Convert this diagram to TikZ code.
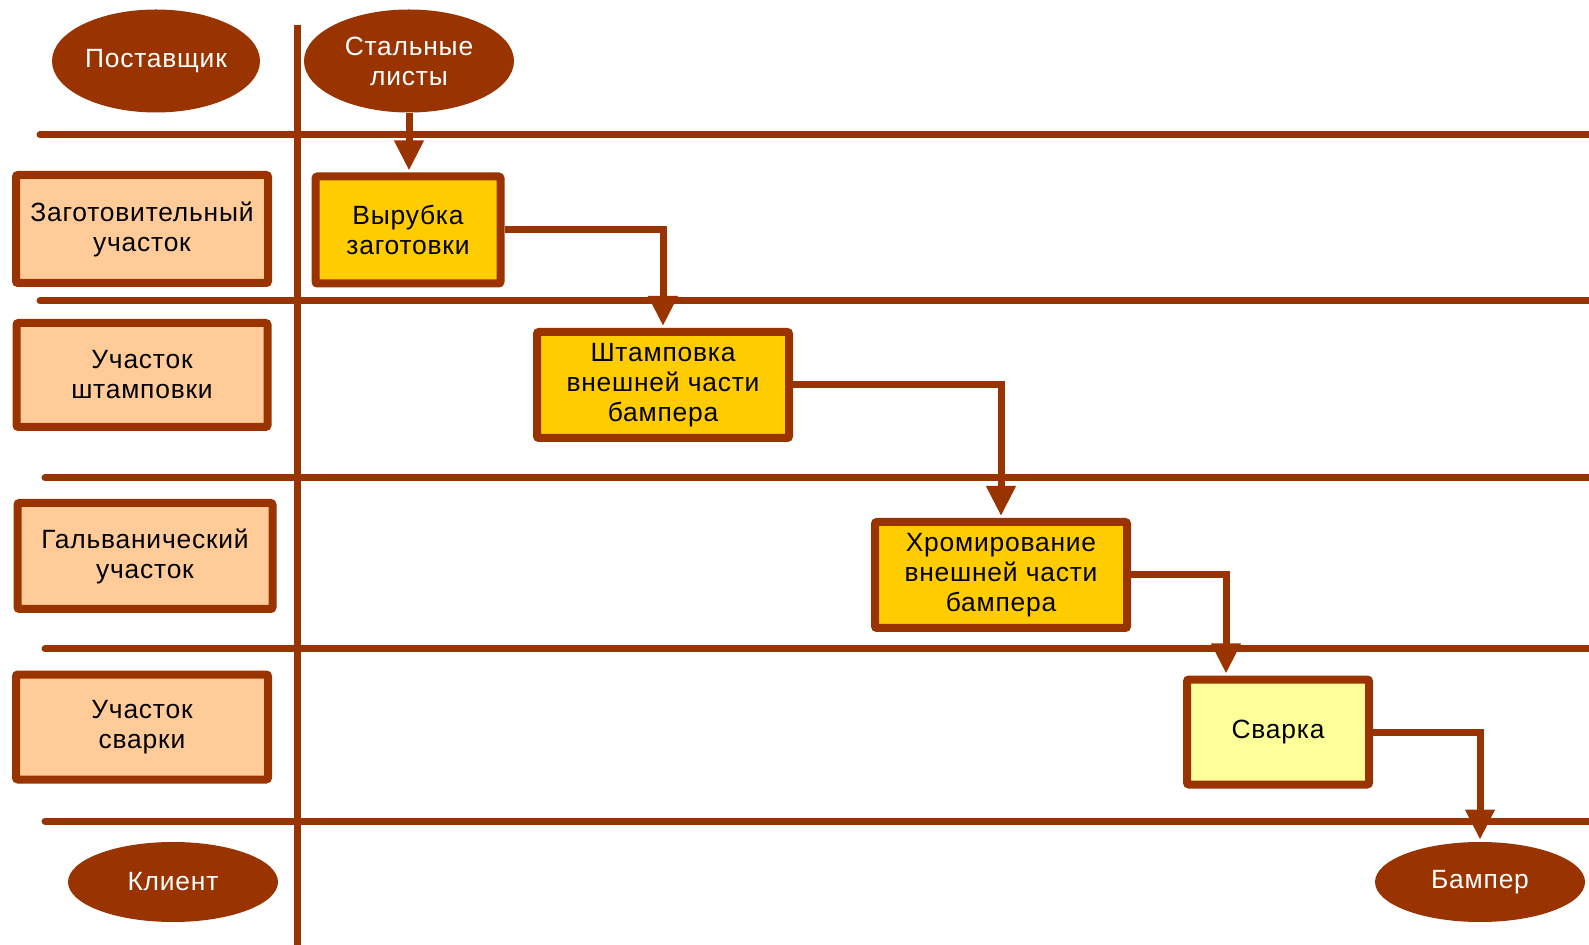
\documentclass[tikz,border=0pt]{standalone}
\usepackage{fontspec}
\setmainfont{Liberation Sans}[LetterSpace=3]
\usetikzlibrary{arrows.meta,shapes.geometric}
\definecolor{brn}{HTML}{993300}
\definecolor{peach}{HTML}{FFCC99}
\definecolor{gold}{HTML}{FFCC00}
\definecolor{pale}{HTML}{FFFF99}
\tikzset{
  lane/.style={draw=brn,line width=3.5pt,line cap=round},
  oval/.style={ellipse,fill=brn,text=white,inner sep=0pt,align=center,font=\fontsize{13.2}{15}\selectfont},
  dept/.style={rectangle,draw=brn,line width=4pt,fill=peach,rounded corners=1pt,align=center,inner sep=0pt,font=\fontsize{13.2}{15}\selectfont},
  proc/.style={dept,fill=gold},
  conn/.style={draw=brn,line width=3.5pt,-{Triangle[length=15pt,width=14pt]},shorten >=1pt}
}
\begin{document}
\begin{tikzpicture}[x=0.5pt,y=-0.5pt]
\useasboundingbox[fill=white] (0,0) rectangle (1589,945);
% lanes
\draw[lane] (40,135) -- (1600,135);
\draw[lane] (40,301) -- (1600,301);
\draw[lane] (45,478) -- (1600,478);
\draw[lane] (45,649) -- (1600,649);
\draw[lane] (45,821) -- (1600,821);
\draw[lane,line cap=butt] (297,25) -- (297,950);
% ovals
\node[oval,minimum width=104pt,minimum height=51.5pt] (post) at (156,61) {Поставщик};
\node[oval,minimum width=105pt,minimum height=51.5pt] (st) at (409,61) {Стальные\\листы};
\node[oval,minimum width=105pt,minimum height=40pt] (kl) at (173,882) {Клиент};
\node[oval,minimum width=105pt,minimum height=40pt] (bamper) at (1480,882) {Бампер};
% departments
\node[dept,minimum width=126pt,minimum height=54pt] (d1) at (142,229) {Заготовительный\\участок};
\node[dept,minimum width=125.5pt,minimum height=52pt] (d2) at (142,375) {Участок\\штамповки};
\node[dept,minimum width=127.5pt,minimum height=53pt] (d3) at (145,556) {Гальванический\\участок};
\node[dept,minimum width=126pt,minimum height=52.5pt] (d4) at (142,727) {Участок\\сварки};
% processes
\node[proc,minimum width=92.5pt,minimum height=53.5pt] (vyr) at (408,230) {Вырубка\\заготовки};
\node[proc,minimum width=126pt,minimum height=53pt] (shtamp) at (663,385) {Штамповка\\внешней части\\бампера};
\node[proc,minimum width=126pt,minimum height=53pt] (chrom) at (1001,575) {Хромирование\\внешней части\\бампера};
\node[proc,fill=pale,minimum width=91pt,minimum height=52.5pt] (svarka) at (1278,732) {Сварка};
\coordinate (c1) at (1226,700);
% connectors
\draw[conn] (st.south) -- (st.south |- vyr.north);
\draw[conn] (vyr.east) -| (shtamp.north);
\draw[conn] (shtamp.east) -| (chrom.north);
\draw[conn] (chrom.east) -| (c1 |- svarka.north);
\draw[conn] (svarka.east) -| (bamper.north);
\end{tikzpicture}
\end{document}
